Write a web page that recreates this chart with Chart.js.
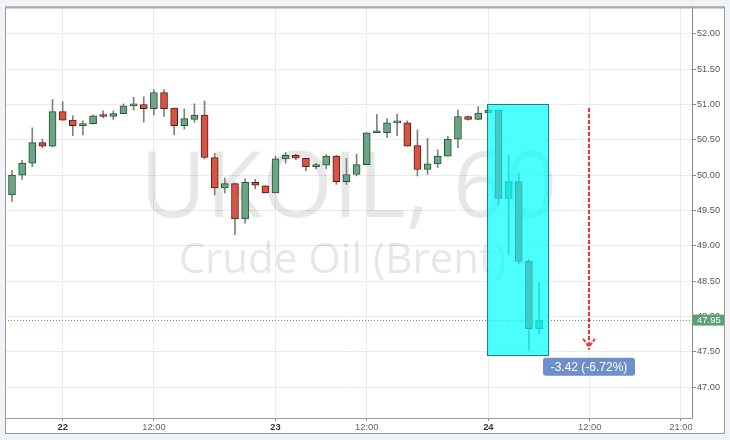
<!DOCTYPE html>
<html lang="en">
<head>
<meta charset="UTF-8">
<title>UKOIL, 60</title>
<style>
  html, body { margin: 0; padding: 0; background: #f0f3f7; }
  canvas { display: block; }
</style>
</head>
<body>
<canvas id="grafico" width="730" height="440"></canvas>
<script src="https://cdn.jsdelivr.net/npm/chart.js"></script>
<script>
// velas de 60 min (O, H, L, C)
const opens  = [49.72, 50.00, 50.17, 50.46, 50.41, 50.90, 50.78, 50.70, 50.73, 50.84,
                50.83, 50.87, 50.98, 51.00, 50.94, 51.17, 50.95, 50.70, 50.79, 50.85,
                50.25, 49.82, 49.88, 49.38, 49.90, 49.85, 49.75, 50.23, 50.28, 50.24,
                50.12, 50.14, 50.27, 49.91, 50.01, 50.15, 50.60, 50.60, 50.74, 50.74,
                50.42, 50.08, 50.16, 50.27, 50.51, 50.83, 50.79, 50.88, 50.92, 49.67,
                49.91, 48.78, 47.83];
const highs  = [50.07, 50.21, 50.67, 50.51, 51.07, 51.04, 50.84, 50.77, 50.85, 50.91,
                50.91, 51.01, 51.10, 51.11, 51.21, 51.21, 50.95, 50.94, 51.01, 51.05,
                50.31, 49.96, 49.88, 49.95, 49.94, 49.85, 50.27, 50.32, 50.30, 50.24,
                50.17, 50.29, 50.28, 50.24, 50.30, 50.60, 50.86, 50.80, 50.86, 50.77,
                50.64, 50.52, 50.36, 50.55, 50.92, 50.84, 50.97, 50.96, 50.92, 50.28,
                50.03, 48.81, 48.48];
const lows   = [49.63, 49.94, 50.12, 50.39, 50.40, 50.78, 50.56, 50.57, 50.72, 50.81,
                50.79, 50.87, 50.92, 50.75, 50.85, 50.83, 50.57, 50.65, 50.75, 50.23,
                49.72, 49.75, 49.16, 49.32, 49.81, 49.75, 49.75, 50.17, 50.22, 50.06,
                50.09, 50.09, 49.87, 49.87, 49.99, 50.15, 50.60, 50.53, 50.56, 50.41,
                49.99, 50.01, 50.11, 50.27, 50.39, 50.78, 50.79, 50.88, 49.58, 48.88,
                48.74, 47.52, 47.76];
const closes = [50.00, 50.17, 50.46, 50.41, 50.90, 50.78, 50.70, 50.73, 50.84, 50.83,
                50.87, 50.98, 51.01, 50.94, 51.17, 50.94, 50.70, 50.80, 50.85, 50.25,
                49.82, 49.88, 49.38, 49.90, 49.86, 49.75, 50.23, 50.28, 50.24, 50.12,
                50.14, 50.27, 49.91, 50.01, 50.15, 50.60, 50.61, 50.74, 50.75, 50.41,
                50.08, 50.16, 50.27, 50.51, 50.83, 50.79, 50.88, 50.92, 49.67, 49.91,
                48.78, 47.83, 47.95];

// eixo do tempo: indice da vela e rotulo
const xTickIndex  = [5, 14, 26, 35, 47, 57, 66];
const xTickLabels = ['22', '12:00', '23', '12:00', '24', '12:00', '21:00'];
const yTicks = [47, 47.5, 48, 48.5, 49, 49.5, 50, 50.5, 51, 51.5, 52];

// desenhos sobre o grafico (faixa de preco e seta de variacao)
const rangeFrom = 46.9, rangeTo = 52.92, rangeHigh = 51.00, rangeLow = 47.45;
const arrowAt = 56.95, arrowFrom = 50.95, arrowTo = 47.53;
const changeText = '-3.42 (-6.72%)';
const lastPrice = closes[closes.length - 1];

const upFill = '#6ba583', upBorder = '#225437';
const downFill = '#d75442', downBorder = '#5b1a13';

Chart.defaults.font.family = "'Liberation Sans', Arial, sans-serif";

// rotulo de dia (22, 23, 24) fica em negrito
function ehDia(c) {
    const lbl = xTickLabels[c.index];
    return lbl !== undefined && !lbl.includes(':');
}

var desenhos = {
    id: 'desenhos',
    beforeDraw(chart) {
        const ctx = chart.ctx;
        const area = chart.chartArea;
        const y = chart.scales.y, x = chart.scales.x;
        ctx.save();
        ctx.fillStyle = '#f0f3f7';
        ctx.fillRect(0, 0, chart.width, chart.height);
        ctx.fillStyle = '#ffffff';
        ctx.fillRect(area.left, area.top, y.right - area.left, x.bottom - area.top);
        ctx.restore();
    },
    beforeDatasetsDraw(chart) {
        // marca d'agua
        const ctx = chart.ctx;
        const area = chart.chartArea;
        const cx = (area.left + area.right) / 2;
        const cy = (area.top + area.bottom) / 2;
        ctx.save();
        ctx.fillStyle = 'rgba(0, 0, 0, 0.095)';
        ctx.textAlign = 'center';
        ctx.textBaseline = 'alphabetic';
        ctx.font = "91px 'Open Sans', sans-serif";
        ctx.fillText('UKOIL, 60', cx, cy + 4.5);
        ctx.font = "42px 'Open Sans', sans-serif";
        ctx.fillText('Crude Oil (Brent)', cx - 6, cy + 61);
        ctx.restore();
    },
    afterDatasetsDraw(chart) {
        const ctx = chart.ctx;
        const area = chart.chartArea;
        const x = chart.scales.x, y = chart.scales.y;
        ctx.save();

        // linha do ultimo preco
        const py = Math.round(y.getPixelForValue(lastPrice)) + 0.5;
        ctx.strokeStyle = '#5b9c76';
        ctx.lineWidth = 1;
        ctx.setLineDash([1, 2]);
        ctx.beginPath();
        ctx.moveTo(area.left, py);
        ctx.lineTo(area.right, py);
        ctx.stroke();
        ctx.setLineDash([]);

        // faixa de preco
        const bx1 = x.getPixelForValue(rangeFrom), bx2 = x.getPixelForValue(rangeTo);
        const by1 = y.getPixelForValue(rangeHigh), by2 = y.getPixelForValue(rangeLow);
        ctx.fillStyle = 'rgba(0, 255, 255, 0.7)';
        ctx.fillRect(bx1, by1, bx2 - bx1, by2 - by1);
        ctx.strokeStyle = '#237f7f';
        ctx.strokeRect(Math.round(bx1) + 0.5, Math.round(by1) + 0.5, Math.round(bx2 - bx1), Math.round(by2 - by1));

        // seta tracejada
        const ax = Math.round(x.getPixelForValue(arrowAt));
        const ay1 = y.getPixelForValue(arrowFrom), ay2 = y.getPixelForValue(arrowTo);
        ctx.strokeStyle = '#ff2b2b';
        ctx.lineWidth = 2;
        ctx.setLineDash([4, 2]);
        ctx.beginPath();
        ctx.moveTo(ax, ay1);
        ctx.lineTo(ax, ay2);
        ctx.stroke();
        ctx.setLineDash([4, 1.5]);
        ctx.lineWidth = 1.8;
        ctx.beginPath();
        ctx.moveTo(ax - 6, ay2 - 11);
        ctx.lineTo(ax, ay2 - 3);
        ctx.lineTo(ax + 6, ay2 - 11);
        ctx.stroke();
        ctx.setLineDash([]);

        // rotulo da variacao
        const lw = 92, lh = 18, ly = ay2 + 17;
        ctx.fillStyle = '#6e8fc9';
        ctx.beginPath();
        ctx.roundRect(ax - lw / 2, ly - lh / 2, lw, lh, 3);
        ctx.fill();
        ctx.fillStyle = '#ffffff';
        ctx.font = "12px 'Liberation Sans', Arial, sans-serif";
        ctx.textAlign = 'center';
        ctx.textBaseline = 'middle';
        ctx.fillText(changeText, ax, ly + 0.5);
        ctx.restore();
    },
    afterDraw(chart) {
        const ctx = chart.ctx;
        const area = chart.chartArea;
        const x = chart.scales.x, y = chart.scales.y;
        ctx.save();
        // corta o rotulo "21:00" na borda do eixo
        ctx.fillStyle = '#ffffff';
        ctx.fillRect(area.right + 0.5, area.bottom + 0.5, y.right - area.right - 1, x.bottom - area.bottom - 1);

        // moldura
        ctx.strokeStyle = '#9a9a9a';
        ctx.lineWidth = 1;
        ctx.strokeRect(area.left + 0.5, area.top + 0.5, y.right - area.left - 1, x.bottom - area.top - 1);
        ctx.strokeStyle = '#aaaaaa';
        ctx.lineWidth = 2;
        ctx.beginPath();
        ctx.moveTo(area.left, area.top + 1);
        ctx.lineTo(y.right, area.top + 1);
        ctx.stroke();

        // etiqueta do ultimo preco
        const py = y.getPixelForValue(lastPrice);
        ctx.fillStyle = '#5c9e77';
        ctx.fillRect(area.right + 0.5, py - 5.5, y.right - area.right - 1.5, 11);
        ctx.fillStyle = '#ffffff';
        ctx.font = "9.5px 'Liberation Sans', Arial, sans-serif";
        ctx.textAlign = 'left';
        ctx.textBaseline = 'middle';
        ctx.fillText(lastPrice.toFixed(2), area.right + 5, py + 0.5);
        ctx.restore();
    }
};

var grafico = new Chart(document.getElementById('grafico'), {
    type: 'bar',
    data: {
        datasets: [
            {
                label: 'Corpo',
                data: opens.map((o, i) => ({ x: i, y: [o, closes[i]] })),
                backgroundColor: closes.map((c, i) => c >= opens[i] ? upFill : downFill),
                borderColor: closes.map((c, i) => c >= opens[i] ? upBorder : downBorder),
                borderWidth: 1,
                borderSkipped: false,
                barThickness: 7,
                minBarLength: 2,
                grouped: false,
                order: 1
            },
            {
                label: 'Pavio',
                data: lows.map((l, i) => ({ x: i, y: [l, highs[i]] })),
                backgroundColor: '#808080',
                borderWidth: 0,
                barThickness: 1,
                grouped: false,
                order: 2
            }
        ]
    },
    options: {
        responsive: false,
        animation: false,
        events: [],
        layout: { padding: { left: 5, top: 3, right: 5, bottom: 6 } },
        plugins: {
            legend: { display: false },
            tooltip: { enabled: false }
        },
        scales: {
            x: {
                type: 'linear',
                min: -0.69,
                max: 67.09,
                offset: false,
                afterBuildTicks: (s) => { s.ticks = xTickIndex.map(v => ({ value: v })); },
                afterFit: (s) => { s.height = 16; },
                grid: { offset: false, color: '#ebebeb', tickColor: '#8a8a8a', tickLength: 3 },
                border: { display: true, color: '#999999', width: 1 },
                ticks: {
                    autoSkip: false,
                    maxRotation: 0,
                    padding: 1,
                    callback: (v, i) => xTickLabels[i],
                    color: (c) => ehDia(c) ? '#333333' : '#666666',
                    font: (c) => ({ size: 9.4, weight: ehDia(c) ? 'bold' : 'normal' })
                }
            },
            y: {
                position: 'right',
                min: 46.565,
                max: 52.386,
                afterBuildTicks: (s) => { s.ticks = yTicks.map(v => ({ value: v })); },
                afterFit: (s) => { s.width = 33; },
                grid: { color: '#ebebeb', tickColor: '#8a8a8a', tickLength: 4 },
                border: { display: true, color: '#8a8a8a', width: 1 },
                ticks: {
                    padding: 1,
                    color: '#555555',
                    font: { size: 9.2 },
                    callback: (v) => Number(v).toFixed(2)
                }
            }
        }
    },
    plugins: [desenhos]
});
</script>
</body>
</html>
